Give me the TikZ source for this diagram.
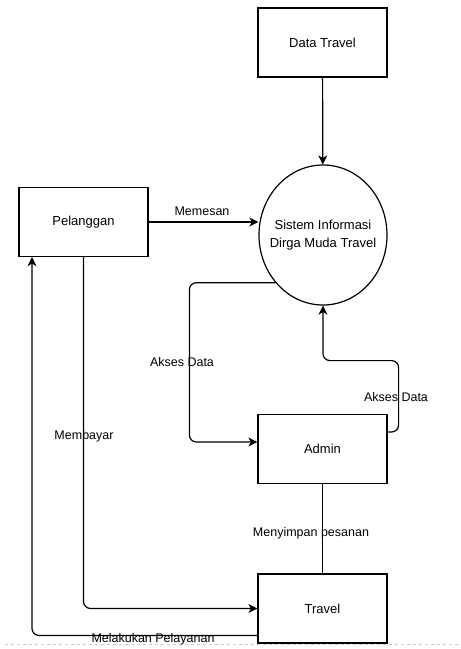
\documentclass[tikz,border=0pt]{standalone}
\usepackage{fontspec}
\setmainfont{Liberation Sans}
\usetikzlibrary{arrows.meta, shapes.geometric}

\tikzset{
    entity/.style={draw, minimum width=129pt, minimum height=69pt,
        font=\fontsize{13}{15}\selectfont},
    process/.style={draw, ellipse, minimum width=128pt, minimum height=140pt,
        inner sep=0pt},
    flow/.style={-{Stealth[length=9pt, width=9pt, inset=2.5pt]}, rounded corners=7pt},
    flowlabel/.style={font=\fontsize{12.5}{14}\selectfont, inner sep=0pt}
}

\begin{document}
\begin{tikzpicture}[x=1pt, y=-1pt, line width=1.2pt]
    \useasboundingbox (0,0) rectangle (461,649);

    % Page break line
    \draw[black!20, line width=0.6pt, dash pattern=on 3pt off 3pt] (5,644) -- (461,644);

    % Entities and process
    \node[entity] (data) at (322.5,42.5) {Data Travel};
    \node[entity] (pelanggan) at (83.5,222) {Pelanggan};
    \node[process, label={[align=center, font=\fontsize{13}{18}\selectfont]center:Sistem Informasi\\Dirga Muda Travel}] (sistem) at (323,235) {};
    \node[entity] (admin) at (322.5,449) {Admin};
    \node[entity] (travel) at (322.5,608.5) {Travel};

    % Data flows
    \draw[flow] (data) -- (sistem);
    \draw[flow] (pelanggan.east) -- (pelanggan.east -| sistem.west);
    \draw[flow] (sistem.-135) -| ([shift={(-68pt,7pt)}]admin.west) -- ([yshift=7pt]admin.west);
    \draw[flow] ([yshift=17pt]admin.east) -- ++(11,0) |- ([yshift=-55pt]sistem.south) -- (sistem.south);
    \draw (admin) -- (travel);
    \draw[flow] (pelanggan.south) |- (travel.west);
    \draw[flow] ([yshift=-27pt]travel.west) -| ([xshift=-51.5pt]pelanggan.south);

    % Flow labels
    \node[flowlabel] (memesan) at (202,211) {Memesan};
    \node[flowlabel] (aksesA) at (182,362) {Akses Data};
    \node[flowlabel] (aksesB) at (396,397) {Akses Data};
    \node[flowlabel] (membayar) at (84,436) {Membayar};
    \node[flowlabel] (menyimpan) at (311,533) {Menyimpan pesanan};
    \node[flowlabel] (melayani) at (153,639) {Melakukan Pelayanan};
\end{tikzpicture}
\end{document}
